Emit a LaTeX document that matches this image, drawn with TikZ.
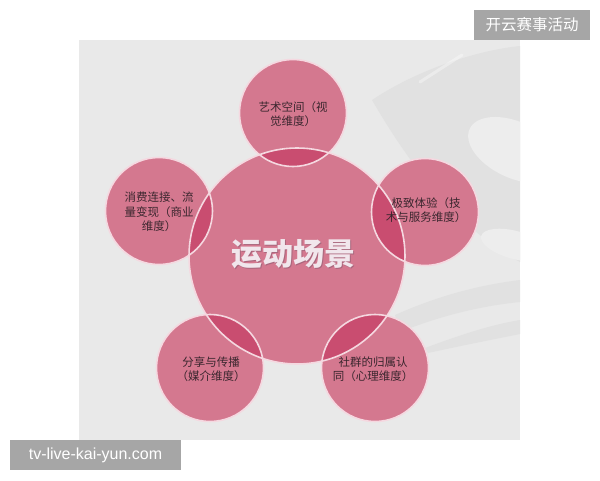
\documentclass[tikz,border=0pt]{standalone}
\usepackage{fontspec}
\newfontfamily\cjk{Noto Sans CJK SC}
\newfontfamily\urlfont{Liberation Sans}
\usepackage{xcolor}
\definecolor{panelgray}{HTML}{E9E9E9}
\definecolor{swooshdark}{HTML}{E1E1E1}
\definecolor{swooshlight}{HTML}{EDEDED}
\definecolor{petal}{HTML}{D4788F}
\definecolor{petaldeep}{HTML}{C94D70}
\definecolor{petalrim}{HTML}{F5D8E0}
\definecolor{inktext}{HTML}{3A262E}
\definecolor{tagbg}{HTML}{A6A6A6}
\definecolor{titlewhite}{HTML}{F1E6EC}
\definecolor{titleshade}{HTML}{A9677D}
\tikzset{bubble/.style={circle,fill=petal,inner sep=0pt},
 bigbubble/.style={bubble,minimum size=216pt},
 smallbubble/.style={bubble,minimum size=107pt},
 rim/.style={draw=petalrim,line width=1.6pt},
 bubbletext/.style={text=inktext,align=center,inner sep=0pt,
  font=\cjk\fontsize{11.5}{14.5}\selectfont},
 tag/.style={fill=tagbg,text=white,inner sep=0pt,minimum height=30pt},
 }

\begin{document}
\begin{tikzpicture}[x=1pt,y=-1pt]
        \useasboundingbox (0,0) rectangle (600,480);
        \fill[panelgray] (79,40) rectangle (520,440);
        \begin{scope}
        \clip (79,40) rectangle (520,440);
        \fill[swooshdark] (372,100) .. controls (420,68) and (480,50) .. (520,46) -- (520,262) .. controls (480,240) and (430,200) .. (372,100) -- cycle;
        \fill[swooshlight, rotate around={-25:(515,150)}] (515,150) ellipse [x radius=50pt, y radius=28pt];
        \fill[swooshlight, rotate around={-15:(515,245)}] (515,245) ellipse [x radius=35pt, y radius=14pt];
        \draw[white, opacity=.35, line width=3pt, line cap=round] (420,82) -- (462,55);
        \fill[swooshdark] (395,315) .. controls (440,295) and (480,285) .. (520,280) -- (520,302) .. controls (480,306) and (440,316) .. (400,332) -- cycle;
        \fill[swooshdark] (425,348) .. controls (460,335) and (490,325) .. (520,320) -- (520,334) .. controls (490,340) and (460,346) .. (428,353) -- cycle;
        \end{scope}

        \node[bigbubble] (scene) at (297,256) {};
        \node[smallbubble] (art) at (293,113) {};
        \node[smallbubble] (consume) at (159,211) {};
        \node[smallbubble] (experience) at (425,212) {};
        \node[smallbubble] (share) at (210,368) {};
        \node[smallbubble] (community) at (375,368) {};

        \begin{scope}
        \clip (scene.center) circle [radius=108pt];
        \foreach \petalname in {art,consume,experience,share,community}
          \fill[petaldeep] (\petalname.center) circle [radius=53.5pt];
        \end{scope}

        \draw[rim] (scene.center) circle [radius=108pt];
        \foreach \petalname in {art,consume,experience,share,community}
          \draw[rim] (\petalname.center) circle [radius=53.5pt];

        \node[text=titleshade, font=\cjk\bfseries\fontsize{31}{31}\selectfont] at (294.5,255.5) {运动场景};
        \node[text=titlewhite, font=\cjk\bfseries\fontsize{31}{31}\selectfont] (title) at (293,254) {运动场景};

        \node[bubbletext] (arttext) at (293,114) {艺术空间（视\\觉维度）};
        \node[bubbletext] (consumetext) at (159,212) {消费连接、流\\量变现（商业\\维度）};
        \node[bubbletext] (experiencetext) at (426,210) {极致体验（技\\术与服务维度）};
        \node[bubbletext] (sharetext) at (211,369) {分享与传播\\（媒介维度）};
        \node[bubbletext] (communitytext) at (373,369) {社群的归属认\\同（心理维度）};

        \node[tag, minimum width=116pt, font=\cjk\fontsize{15.5}{16}\selectfont] (brand) at (532,25) {开云赛事活动};
        \node[tag, minimum width=171pt, font=\urlfont\fontsize{16}{16}\selectfont] (site) at (95.5,455) {tv-live-kai-yun.com};
    \end{tikzpicture}
\end{document}
